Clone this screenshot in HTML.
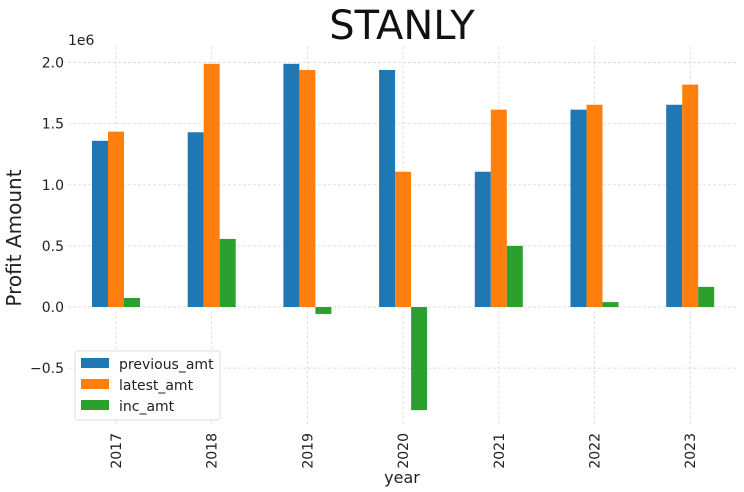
<!DOCTYPE html>
<html><head><meta charset="utf-8"><style>
body{margin:0;background:#fff}
svg{display:block;font-family:"DejaVu Sans","Liberation Sans",sans-serif}
</style></head><body>
<svg id="c" width="744" height="492"></svg>
<script>
const years=["2017","2018","2019","2020","2021","2022","2023"];
const previousAmt=[1.36,1.43,1.99,1.94,1.107,1.615,1.655];
const latestAmt=[1.435,1.99,1.94,1.107,1.615,1.655,1.82];
const incAmt=[0.074,0.557,-0.057,-0.844,0.5,0.04,0.165];
const yTicks=[-0.5,0,0.5,1.0,1.5,2.0];
const yTickLabels=["−0.5","0.0","0.5","1.0","1.5","2.0"];
const NS="http://www.w3.org/2000/svg";
const svg=document.getElementById('c');
const L=68,R=737,T=46,B=426;
function y(v){return 307-v*122.2;}
function xc(i){return 116+i*95.7;}
function mk(tag,attrs,parent){const e=document.createElementNS(NS,tag);for(const k in attrs)e.setAttribute(k,attrs[k]);(parent||svg).appendChild(e);return e;}
yTicks.forEach((t,i)=>{
  const g=mk('line',{x1:L,x2:R,y1:y(t),y2:y(t),stroke:'#d4d4d4','stroke-width':0.7,'stroke-dasharray':'3,2'});
  
  
  const tx=mk('text',{x:64,y:y(t)+5,'text-anchor':'end','font-size':14,fill:'#222'});
  tx.textContent=yTickLabels[i];
  
  
});
years.forEach((yr,i)=>{
  const g=mk('line',{x1:xc(i),x2:xc(i),y1:T,y2:B,stroke:'#d4d4d4','stroke-width':0.7,'stroke-dasharray':'3,2'});
  
  
  const tx=mk('text',{x:0,y:0,'text-anchor':'end','font-size':14,fill:'#222',transform:`translate(${xc(i)+5},433) rotate(-90)`});
  tx.textContent=yr;
  
  
});
const series=[[previousAmt,'#1f77b4',-24,'previous'],[latestAmt,'#ff7f0e',-8,'latest'],[incAmt,'#2ca02c',8,'inc']];
series.forEach(([vals,col,off,nm])=>{
  vals.forEach((v,i)=>{
    const y0=Math.min(y(v),y(0)),h=Math.abs(y(v)-y(0));
    const r=mk('rect',{x:xc(i)+off,y:y0,width:16,height:h,fill:col});
    
    
  });
});
</script>
<svg width="744" height="492" style="position:absolute;left:0;top:0">
<text x="402" y="39" text-anchor="middle" font-size="40" fill="#111">STANLY</text>
<text x="68" y="45" font-size="14" fill="#222">1e6</text>
<text x="0" y="0" transform="translate(21,238) rotate(-90)" text-anchor="middle" font-size="20" fill="#222">Profit Amount</text>
<text x="402" y="483" text-anchor="middle" font-size="16" fill="#222">year</text>
<g>
<rect x="75" y="351" width="145" height="69" rx="3" fill="#fff" fill-opacity="0.85" stroke="#ddd"/>
<rect x="81" y="358" width="28" height="10" fill="#1f77b4"/>
<text x="119" y="369" font-size="14" fill="#222">previous_amt</text>
<rect x="81" y="379" width="28" height="10" fill="#ff7f0e"/>
<text x="119" y="390" font-size="14" fill="#222">latest_amt</text>
<rect x="81" y="400" width="28" height="10" fill="#2ca02c"/>
<text x="119" y="411" font-size="14" fill="#222">inc_amt</text>
</g>
</svg>
</body></html>
